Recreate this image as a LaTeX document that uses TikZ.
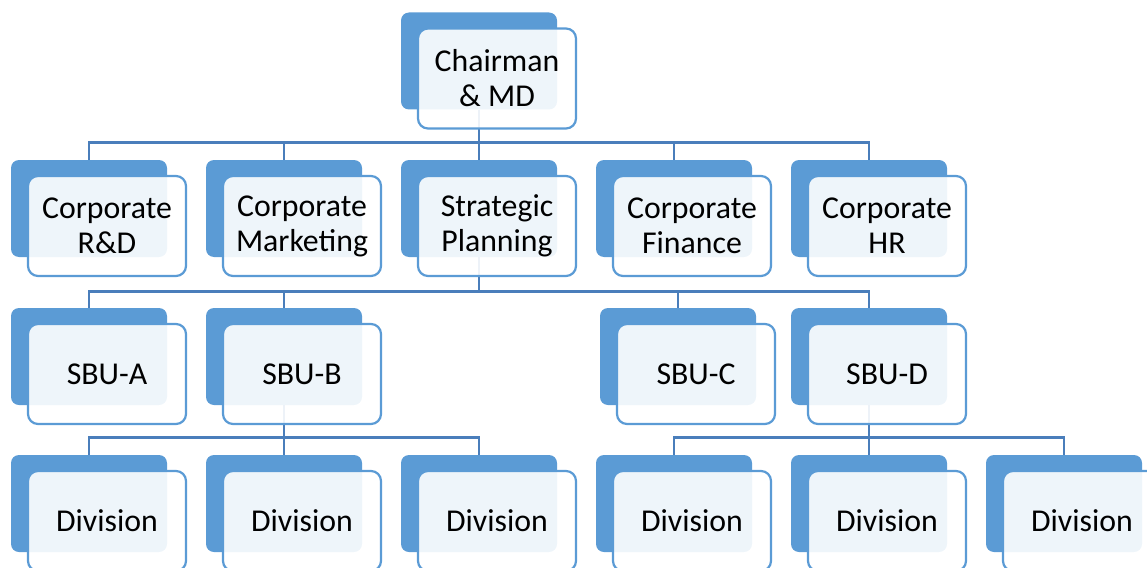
\documentclass[tikz,border=0pt]{standalone}
\usepackage{fontspec}
\setmainfont{Carlito}
\usetikzlibrary{backgrounds}
\definecolor{accent}{HTML}{5B9BD5}
\definecolor{linkblue}{HTML}{4A7EBB}
% one unit of the chart: a filled back card and a translucent front card carrying the text
\newcommand\orgunit[4]{%
  \node[backbox] (#1-b) at (#2,#3) {};
  \node[frontbox] (#1) at (#2+18,#3+17.5) {#4};
}
\begin{document}
\begin{tikzpicture}[x=1pt,y=-1pt,
  backbox/.style={draw=none, fill=accent, rounded corners=8pt,
    minimum width=156pt, minimum height=97pt, inner sep=0pt},
  frontbox/.style={draw=accent, line width=2.2pt, fill=white, fill opacity=0.9,
    text opacity=1, rounded corners=10pt, minimum width=158pt, minimum height=100pt,
    inner sep=0pt, align=center, font=\fontsize{31.8}{35}\selectfont},
  link/.style={draw=linkblue, line width=2.8pt}
]
\useasboundingbox (0,0) rectangle (1147,567);
\clip (0,0) rectangle (1147,567);

% top
\orgunit{ceo}{479}{61}{Chairman\\\& MD}
% corporate functions
\orgunit{rd}{89}{208.5}{Corporate\\R\&D}
\orgunit{mkt}{284}{208.5}{Corporate\\Marketing}
\orgunit{sp}{479}{208.5}{Strategic\\Planning}
\orgunit{fin}{674}{208.5}{Corporate\\Finance}
\orgunit{hr}{869}{208.5}{Corporate\\HR}
% business units
\orgunit{sbua}{89}{356.5}{SBU-A}
\orgunit{sbub}{284}{356.5}{SBU-B}
\orgunit{sbuc}{678}{356.5}{SBU-C}
\orgunit{sbud}{869}{356.5}{SBU-D}
% divisions
\orgunit{da}{89}{503.5}{Division}
\orgunit{db}{284}{503.5}{Division}
\orgunit{dc}{479}{503.5}{Division}
\orgunit{dd}{674}{503.5}{Division}
\orgunit{de}{869}{503.5}{Division}
\orgunit{df}{1064}{503.5}{Division}

% connectors, kept behind the cards
\begin{scope}[on background layer]
  \foreach \c in {rd,mkt,sp,fin,hr}
    \draw[link] (ceo-b.south) -- ++(0,33) -| (\c-b.north);
  \foreach \c in {sbua,sbub,sbuc,sbud}
    \draw[link] (sp-b.south) -- ++(0,34) -| (\c-b.north);
  \foreach \c in {da,db,dc}
    \draw[link] (sbub-b.south) -- ++(0,32) -| (\c-b.north);
  \foreach \c in {dd,de,df}
    \draw[link] (sbud-b.south) -- ++(0,32) -| (\c-b.north);
\end{scope}
\end{tikzpicture}
\end{document}
